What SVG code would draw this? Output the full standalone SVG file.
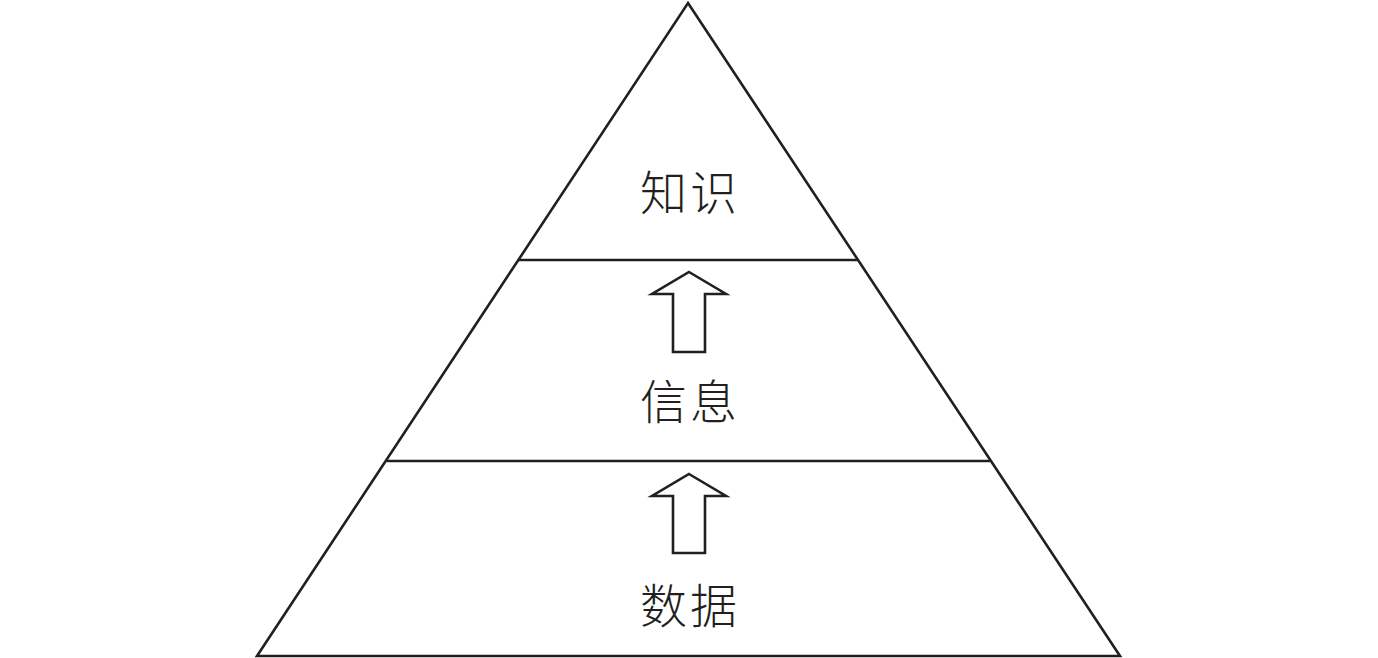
<svg xmlns="http://www.w3.org/2000/svg" width="1378" height="658" viewBox="0 0 1378 658">
<style>
.ln{fill:none;stroke:#231f20;stroke-width:2.6;stroke-linejoin:miter}
.ar{fill:#fff;stroke:#231f20;stroke-width:2.6;stroke-linejoin:miter}
.t{font-family:"Noto Sans CJK SC","Noto Sans",sans-serif;font-size:47px;font-weight:300;fill:#231f20;text-anchor:middle;letter-spacing:3px}
</style>
<rect width="1378" height="658" fill="#fff"/>
<g id="pyramid">
<polygon class="ln" points="688,3 1120,656 257,656"/>
<line class="ln" x1="519" y1="260" x2="857" y2="260"/>
<line class="ln" x1="387" y1="461" x2="990" y2="461"/>
</g>
<g id="node-knowledge"><text class="t" x="690" y="210">知识</text></g>
<g id="node-information"><text class="t" x="690" y="419">信息</text></g>
<g id="node-data"><text class="t" x="690" y="623">数据</text></g>
<g id="connectors">
<polygon class="ar" points="689,272 726,294 705,294 705,352 673,352 673,294 652,294"/>
<polygon class="ar" points="689,474 726,496 705,496 705,553 673,553 673,496 652,496"/>
</g>
</svg>
